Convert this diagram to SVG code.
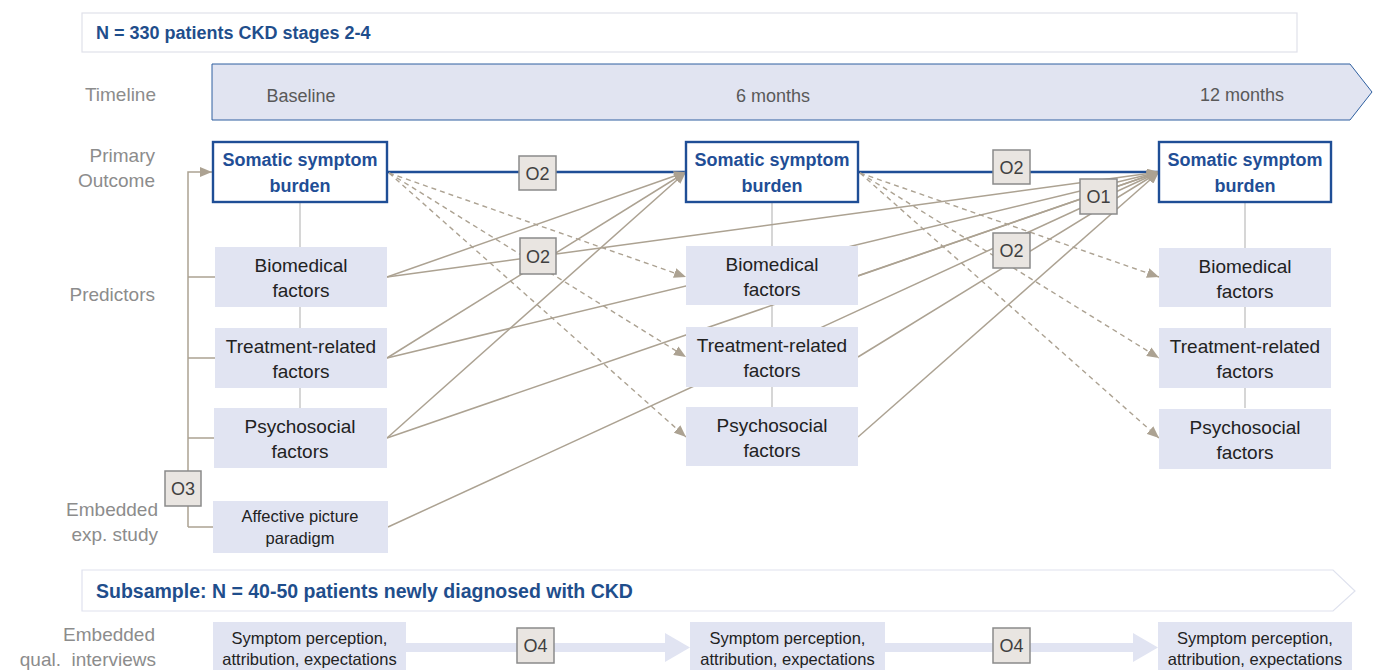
<svg xmlns="http://www.w3.org/2000/svg" width="1373" height="670" viewBox="0 0 1373 670">
<defs>
<style>
text{font-family:"Liberation Sans",Arial,sans-serif}
.lbl{font-size:19px;fill:#8c8c8c;text-anchor:end}
.tl{font-size:18px;fill:#595959;text-anchor:middle}
.hdr{font-size:18px;font-weight:bold;fill:#1f4e8c}
.box{fill:#e1e4f2}
.bt{font-size:19px;fill:#222;text-anchor:middle}
.st{font-size:16.5px;fill:#222;text-anchor:middle}
.som{fill:#fff;stroke:#1f4e96;stroke-width:2.4}
.somt{font-size:18px;font-weight:bold;fill:#1f4e96;text-anchor:middle}
.tan{stroke:#aca292;stroke-width:1.5;fill:none}
.dash{stroke:#aca292;stroke-width:1.4;fill:none;stroke-dasharray:5,4}
.blue{stroke:#1f4e96;stroke-width:2.4;fill:none}
.vert{stroke:#c8c8c8;stroke-width:1.5}
.ob{fill:#e9e5e1;stroke:#8a8a8a;stroke-width:1.5}
.ot{font-size:18px;fill:#404040;text-anchor:middle}
.band{fill:#e1e4f2}
</style>
<marker id="ah" viewBox="0 0 12 10" refX="12" refY="5" markerWidth="12" markerHeight="10" markerUnits="userSpaceOnUse" orient="auto">
<path d="M0,0 L12,5 L0,10 z" fill="#aca292"/>
</marker>
</defs>
<rect width="1373" height="670" fill="#fff"/>

<g id="header">
<rect x="82" y="13" width="1215" height="39" fill="#fff" stroke="#e0e1ea" stroke-width="1.2"/>
<text x="96" y="39" class="hdr">N = 330 patients CKD stages 2-4</text>
</g>

<g id="timeline">
<polygon points="212,64 1350,64 1372,92 1350,120 212,120" fill="#e1e4f1" stroke="#2e5fa0" stroke-width="1"/>
<text x="301" y="102" class="tl">Baseline</text>
<text x="773" y="102" class="tl">6 months</text>
<text x="1242" y="101" class="tl">12 months</text>
</g>

<g id="row-labels">
<text x="156" y="101" class="lbl">Timeline</text>
<text x="155" y="162" class="lbl">Primary</text>
<text x="155" y="187" class="lbl">Outcome</text>
<text x="155" y="301" class="lbl">Predictors</text>
<text x="158" y="516" class="lbl">Embedded</text>
<text x="158" y="541" class="lbl">exp. study</text>
<text x="155" y="641" class="lbl">Embedded</text>
<text x="156" y="666" class="lbl" xml:space="preserve">qual.  interviews</text>
</g>

<g id="connectors">
<line class="vert" x1="300" y1="202" x2="300" y2="408"/>
<line class="vert" x1="772" y1="202" x2="772" y2="408"/>
<line class="vert" x1="1245" y1="202" x2="1245" y2="408"/>
<path class="tan" d="M188,527 V172 H212" marker-end="url(#ah)"/>
<path class="tan" d="M188,277 H215 M188,358 H215 M188,438 H215 M188,527 H213"/>
<line class="blue" x1="387" y1="172" x2="686" y2="172"/>
<line class="blue" x1="858" y1="172" x2="1159" y2="172"/>
<line class="dash" x1="389" y1="173" x2="686" y2="277" marker-end="url(#ah)"/>
<line class="dash" x1="389" y1="173" x2="686" y2="357" marker-end="url(#ah)"/>
<line class="dash" x1="389" y1="173" x2="686" y2="437" marker-end="url(#ah)"/>
<line class="dash" x1="860" y1="173" x2="1159" y2="277" marker-end="url(#ah)"/>
<line class="dash" x1="860" y1="173" x2="1159" y2="358" marker-end="url(#ah)"/>
<line class="dash" x1="860" y1="173" x2="1159" y2="438" marker-end="url(#ah)"/>
<line class="tan" x1="387" y1="277" x2="686" y2="172" marker-end="url(#ah)"/>
<line class="tan" x1="387" y1="358" x2="686" y2="172" marker-end="url(#ah)"/>
<line class="tan" x1="387" y1="438" x2="686" y2="172" marker-end="url(#ah)"/>
<line class="tan" x1="387" y1="277" x2="1159" y2="172" marker-end="url(#ah)"/>
<line class="tan" x1="387" y1="358" x2="1159" y2="172" marker-end="url(#ah)"/>
<line class="tan" x1="387" y1="438" x2="1159" y2="172" marker-end="url(#ah)"/>
<line class="tan" x1="388" y1="527" x2="1159" y2="172" marker-end="url(#ah)"/>
<line class="tan" x1="858" y1="276" x2="1159" y2="172" marker-end="url(#ah)"/>
<line class="tan" x1="858" y1="357" x2="1159" y2="172" marker-end="url(#ah)"/>
<line class="tan" x1="858" y1="437" x2="1159" y2="172" marker-end="url(#ah)"/>
</g>

<g id="som1"><rect class="som" x="213" y="142" width="174" height="60"/><text class="somt" x="300" y="166">Somatic symptom</text><text class="somt" x="300" y="192">burden</text></g>
<g id="bio1"><rect class="box" x="215" y="247" width="172" height="60"/><text class="bt" x="301" y="272">Biomedical</text><text class="bt" x="301" y="297">factors</text></g>
<g id="treat1"><rect class="box" x="215" y="328" width="172" height="60"/><text class="bt" x="301" y="353">Treatment-related</text><text class="bt" x="301" y="378">factors</text></g>
<g id="psych1"><rect class="box" x="214" y="408" width="173" height="60"/><text class="bt" x="300" y="433">Psychosocial</text><text class="bt" x="300" y="458">factors</text></g>
<g id="affective"><rect class="box" x="213" y="501" width="175" height="52"/><text class="st" x="300" y="522">Affective picture</text><text class="st" x="300" y="544">paradigm</text></g>

<g id="som2"><rect class="som" x="686" y="142" width="172" height="60"/><text class="somt" x="772" y="166">Somatic symptom</text><text class="somt" x="772" y="192">burden</text></g>
<g id="bio2"><rect class="box" x="686" y="246" width="172" height="59"/><text class="bt" x="772" y="271">Biomedical</text><text class="bt" x="772" y="296">factors</text></g>
<g id="treat2"><rect class="box" x="686" y="327" width="172" height="60"/><text class="bt" x="772" y="352">Treatment-related</text><text class="bt" x="772" y="377">factors</text></g>
<g id="psych2"><rect class="box" x="686" y="407" width="172" height="59"/><text class="bt" x="772" y="432">Psychosocial</text><text class="bt" x="772" y="457">factors</text></g>

<g id="som3"><rect class="som" x="1159" y="142" width="172" height="60"/><text class="somt" x="1245" y="166">Somatic symptom</text><text class="somt" x="1245" y="192">burden</text></g>
<g id="bio3"><rect class="box" x="1159" y="248" width="172" height="59"/><text class="bt" x="1245" y="273">Biomedical</text><text class="bt" x="1245" y="298">factors</text></g>
<g id="treat3"><rect class="box" x="1159" y="328" width="172" height="60"/><text class="bt" x="1245" y="353">Treatment-related</text><text class="bt" x="1245" y="378">factors</text></g>
<g id="psych3"><rect class="box" x="1159" y="409" width="172" height="60"/><text class="bt" x="1245" y="434">Psychosocial</text><text class="bt" x="1245" y="459">factors</text></g>

<g id="labels-o">
<g id="o2a"><rect class="ob" x="519" y="156" width="37" height="34"/><text class="ot" x="537.5" y="180">O2</text></g>
<g id="o2b"><rect class="ob" x="520" y="238" width="36" height="36"/><text class="ot" x="538" y="263">O2</text></g>
<g id="o2c"><rect class="ob" x="993" y="150" width="37" height="34"/><text class="ot" x="1011.5" y="174">O2</text></g>
<g id="o2d"><rect class="ob" x="993" y="233" width="37" height="35"/><text class="ot" x="1011.5" y="257">O2</text></g>
<g id="o1"><rect class="ob" x="1080" y="179" width="37" height="35"/><text class="ot" x="1098.5" y="203">O1</text></g>
<g id="o3"><rect class="ob" x="165" y="471" width="36" height="35"/><text class="ot" x="183" y="495">O3</text></g>
</g>

<g id="subsample">
<polygon points="82,570 1333,570 1355,591 1333,611 82,611" fill="#fff" stroke="#dfe2ee" stroke-width="1.2"/>
<text x="96" y="598" class="hdr" style="font-size:19.5px">Subsample: N = 40-50 patients newly diagnosed with CKD</text>
</g>

<g id="qual-arrows">
<rect class="band" x="406" y="643" width="260" height="9"/>
<polygon class="band" points="665,633 690,647.5 665,662"/>
<rect class="band" x="885" y="643" width="249" height="9"/>
<polygon class="band" points="1133,633 1158,647.5 1133,662"/>
</g>
<g id="qual1"><rect class="box" x="213" y="622" width="193" height="48"/><text class="st" x="309.5" y="644">Symptom perception,</text><text class="st" x="309.5" y="665">attribution, expectations</text></g>
<g id="qual2"><rect class="box" x="690" y="622" width="195" height="48"/><text class="st" x="787.5" y="644">Symptom perception,</text><text class="st" x="787.5" y="665">attribution, expectations</text></g>
<g id="qual3"><rect class="box" x="1158" y="622" width="194" height="48"/><text class="st" x="1255" y="644">Symptom perception,</text><text class="st" x="1255" y="665">attribution, expectations</text></g>
<g id="o4a"><rect class="ob" x="517" y="628" width="37" height="35"/><text class="ot" x="535.5" y="652">O4</text></g>
<g id="o4b"><rect class="ob" x="993" y="628" width="37" height="35"/><text class="ot" x="1011.5" y="652">O4</text></g>
</svg>
